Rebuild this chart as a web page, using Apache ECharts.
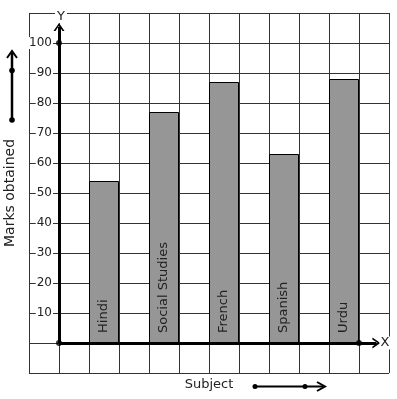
<!DOCTYPE html>
<html>
<head>
<meta charset="utf-8">
<script src="https://cdn.jsdelivr.net/npm/echarts@6/dist/echarts.min.js"></script>
<style>
html,body{margin:0;padding:0;background:#fff;}
#chart{width:397px;height:399px;}
</style>
</head>
<body>
<div id="chart"></div>
<script>
// Data
var subjects = ['Hindi', 'Social Studies', 'French', 'Spanish', 'Urdu'];
var marks = [54, 77, 87, 63, 88];
var yTickLabels = [10, 20, 30, 40, 50, 60, 70, 80, 90, 100];

var FONT = 'DejaVu Sans';
var chevron = 'path://M0,10 L5,0 L10,10 L8.2,10 L5,3.4 L1.8,10 Z';

// Bars placed in every second grid cell starting at cell 1
var barData = subjects.map(function (s, i) { return [1.5 + 2 * i, marks[i]]; });

var chart = echarts.init(document.getElementById('chart'));
chart.setOption({
  animation: false,
  backgroundColor: '#fff',
  textStyle: { fontFamily: FONT },
  grid: { left: 29, top: 13, width: 360, height: 360, show: false, containLabel: false, outerBoundsMode: 'none' },
  xAxis: {
    type: 'value', min: -1, max: 11, interval: 1,
    name: 'Subject', nameLocation: 'middle', nameGap: 5,
    nameTextStyle: { fontFamily: FONT, fontSize: 13, color: '#222', verticalAlign: 'top' },
    axisLine: { show: false, onZero: false },
    axisTick: { show: false },
    axisLabel: { show: false },
    splitLine: { show: true, lineStyle: { color: '#333', width: 1 } }
  },
  yAxis: {
    type: 'value', min: -10, max: 110, interval: 10,
    offset: -30,
    name: 'Marks obtained', nameLocation: 'middle', nameRotate: 90, nameGap: 38,
    nameTextStyle: { fontFamily: FONT, fontSize: 14, color: '#222' },
    axisLine: { show: false, onZero: false },
    axisTick: { show: false },
    axisLabel: {
      fontFamily: FONT, fontSize: 12, color: '#222', margin: 6,
      backgroundColor: '#fff', padding: [0, 1],
      formatter: function (v) { return yTickLabels.indexOf(v) >= 0 ? String(v) : ''; }
    },
    splitLine: { show: true, lineStyle: { color: '#333', width: 1 } }
  },
  series: [
    {
      type: 'bar',
      data: barData,
      barWidth: 30,
      itemStyle: { color: '#969696', borderColor: '#000', borderWidth: 1 },
      label: {
        show: true, position: 'insideBottom', rotate: 90, distance: 10,
        align: 'left', verticalAlign: 'middle',
        fontFamily: FONT, fontSize: 13, color: '#222',
        formatter: function (p) { return subjects[p.dataIndex]; }
      },
      silent: true
    },
    {
      type: 'scatter',
      data: [[0, 0], [0, 100], [10, 0]],
      symbolSize: 6,
      itemStyle: { color: '#000' },
      silent: true,
      z: 5,
      markLine: {
        silent: true,
        symbol: ['none', chevron],
        symbolSize: [11, 8],
        lineStyle: { color: '#000', width: 3, type: 'solid' },
        label: { show: false },
        data: [
          [{ coord: [0, 0] }, { coord: [10.58, 0],
            label: { show: true, position: 'end', formatter: 'X', distance: 3,
              fontFamily: FONT, fontSize: 13, color: '#222', backgroundColor: '#fff', padding: [0, 1] } }],
          [{ coord: [0, 0] }, { coord: [0, 105.3],
            label: { show: true, position: 'end', formatter: 'Y', distance: 4, offset: [2, 0],
              fontFamily: FONT, fontSize: 13, color: '#222', backgroundColor: '#fff', padding: [0, 2] } }]
        ]
      }
    }
  ],
  graphic: [
    { type: 'line', shape: { x1: 12, y1: 120, x2: 12, y2: 53 }, style: { stroke: '#000', lineWidth: 2.5 } },
    { type: 'polyline', shape: { points: [[7, 58], [12, 51], [17, 58]] }, style: { stroke: '#000', lineWidth: 2, fill: null } },
    { type: 'circle', shape: { cx: 12, cy: 120, r: 2.8 }, style: { fill: '#000' } },
    { type: 'circle', shape: { cx: 12, cy: 70.5, r: 2.8 }, style: { fill: '#000' } },
    { type: 'line', shape: { x1: 255, y1: 386.5, x2: 323, y2: 386.5 }, style: { stroke: '#000', lineWidth: 2 } },
    { type: 'polyline', shape: { points: [[317, 382], [325, 386.5], [317, 391]] }, style: { stroke: '#000', lineWidth: 2, fill: null } },
    { type: 'circle', shape: { cx: 255, cy: 386.5, r: 2.5 }, style: { fill: '#000' } },
    { type: 'circle', shape: { cx: 305, cy: 386.5, r: 2.5 }, style: { fill: '#000' } }
  ]
});
</script>
</body>
</html>
